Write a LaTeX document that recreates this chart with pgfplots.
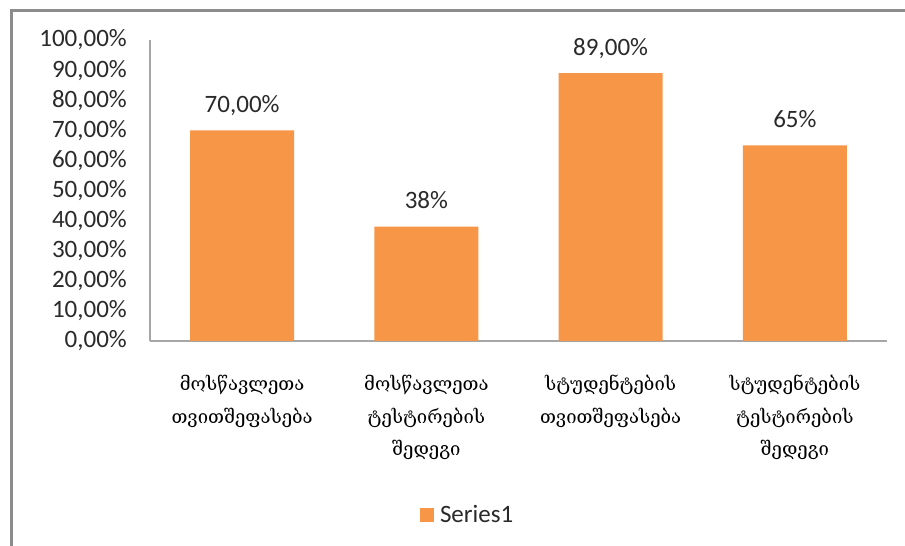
\documentclass[border=0pt]{standalone}
\usepackage{pgfplots}
\pgfplotsset{compat=1.18}
\usepackage{fontspec}
\setmainfont{Carlito}
\newfontfamily\geofont{DejaVu Serif}
\definecolor{barorange}{HTML}{F79646}
\definecolor{axisgray}{HTML}{A6A6A6}
\definecolor{framegray}{HTML}{8C8C8C}
\definecolor{txt}{HTML}{2A2A2A}
\begin{document}
\begin{tikzpicture}
\useasboundingbox (0,0) rectangle (905pt,546pt);
\fill[white] (0,0) rectangle (905pt,546pt);
\draw[color=framegray, line width=3pt] (11pt,0) -- (11pt,535pt) -- (905pt,535pt);
\begin{axis}[
  at={(150pt,205pt)}, anchor=south west,
  scale only axis, width=737pt, height=301pt,
  xmin=-0.5, xmax=3.5, ymin=0, ymax=100,
  axis lines*=left,
  axis line style={axisgray, line width=1.5pt},
  major tick length=0pt,
  ytick={0,10,...,100},
  yticklabels={{0,00\%},{10,00\%},{20,00\%},{30,00\%},{40,00\%},{50,00\%},{60,00\%},{70,00\%},{80,00\%},{90,00\%},{100,00\%}},
  yticklabel style={font=\fontsize{25}{30}\selectfont, text=txt, anchor=east, inner sep=0pt, xshift=-23pt},
  xtick={0,1,2,3},
  xticklabels={{მოსწავლეთა\\თვითშეფასება},{მოსწავლეთა\\ტესტირების\\შედეგი},{სტუდენტების\\თვითშეფასება},{სტუდენტების\\ტესტირების\\შედეგი}},
  xticklabel style={font=\geofont\fontsize{18.5}{32.5}\selectfont, text=black, align=center, anchor=north, inner sep=0pt, yshift=-34pt},
  legend style={at={(0.431,-0.578)}, anchor=center, draw=none, fill=none, font=\fontsize{25}{30}\selectfont, text=txt,
    /tikz/every odd column/.append style={column sep=4pt}},
]
\addplot[ybar, bar width=104pt, fill=barorange, draw=none,
  point meta=explicit symbolic,
  nodes near coords={\pgfplotspointmeta},
  nodes near coords style={font=\fontsize{25}{30}\selectfont, text=txt, anchor=base, yshift=18pt},
  legend image code/.code={\fill[barorange] (0pt,-7pt) rectangle (14pt,7pt);}]
coordinates {(0,70) [70,00\%] (1,38) [38\%] (2,89) [89,00\%] (3,65) [65\%]};
\addlegendentry{Series1}
\end{axis}
\end{tikzpicture}
\end{document}
